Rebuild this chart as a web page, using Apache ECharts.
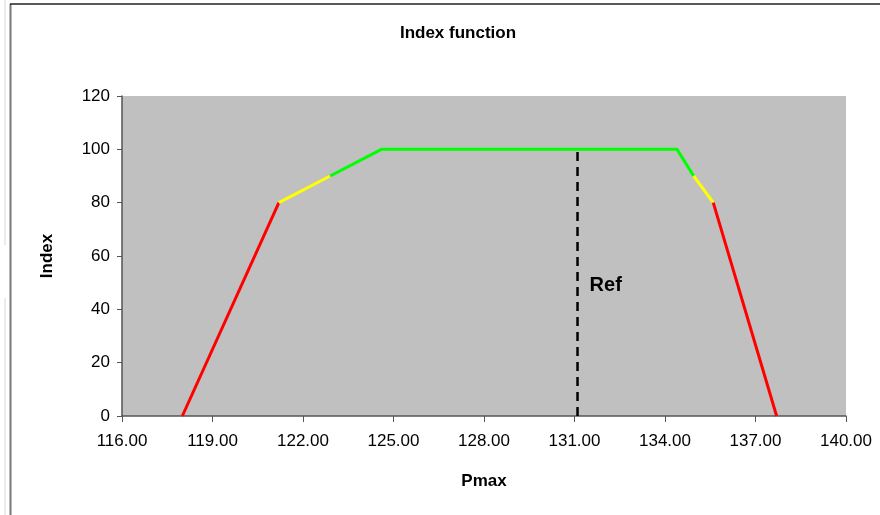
<!DOCTYPE html>
<html>
<head>
<meta charset="utf-8">
<script src="https://cdn.jsdelivr.net/npm/echarts@6/dist/echarts.min.js"></script>
<style>html,body{margin:0;padding:0;background:#fff}#c{width:880px;height:515px}</style>
</head>
<body>
<div id="c"></div>
<script>
const xTicks = [116, 119, 122, 125, 128, 131, 134, 137, 140];
const redLeft = [[118.0, 0], [121.2, 80]];
const yellowLeft = [[121.2, 80], [122.9, 90]];
const greenTop = [[122.9, 90], [124.6, 100], [134.4, 100], [134.95, 90]];
const yellowRight = [[134.95, 90], [135.6, 80]];
const redRight = [[135.6, 80], [137.7, 0]];
const refLine = [[131.1, 0], [131.1, 100]];
const refLabel = [[131.5, 49]];

const FONT = "'Liberation Sans', Arial, sans-serif";
const chart = echarts.init(document.getElementById('c'));
function seg(data, color) {
  return { type: 'line', data: data, symbol: 'none', lineStyle: { color: color, width: 3 }, silent: true, animation: false, z: 3 };
}
chart.setOption({
  animation: false,
  title: { text: 'Index function', left: 453, top: 20, textAlign: 'center',
    textStyle: { fontFamily: FONT, fontSize: 17, fontWeight: 'bold', color: '#000' } },
  grid: { left: 122, right: 34, top: 96, bottom: 99, show: true, backgroundColor: '#c0c0c0', borderWidth: 0 },
  xAxis: {
    type: 'value', min: 116, max: 140,
    name: 'Pmax', nameLocation: 'middle', nameGap: 57,
    nameTextStyle: { fontFamily: FONT, fontSize: 17, fontWeight: 'bold', color: '#000' },
    axisLine: { lineStyle: { color: '#555', width: 1.5 } },
    axisTick: { show: true, length: 6, customValues: xTicks, lineStyle: { color: '#555' } },
    axisLabel: { customValues: xTicks, formatter: v => v.toFixed(2), fontFamily: FONT, fontSize: 17, color: '#000', margin: 17 },
    splitLine: { show: false }
  },
  yAxis: {
    type: 'value', min: 0, max: 120, interval: 20,
    name: 'Index', nameLocation: 'middle', nameGap: 66,
    nameTextStyle: { fontFamily: FONT, fontSize: 17, fontWeight: 'bold', color: '#000' },
    axisLine: { show: true, lineStyle: { color: '#555', width: 1.5 } },
    axisTick: { show: true, length: 5, lineStyle: { color: '#555' } },
    axisLabel: { fontFamily: FONT, fontSize: 17, color: '#000', margin: 12 },
    splitLine: { show: false }
  },
  series: [
    seg(redLeft, '#ff0000'),
    seg(yellowLeft, '#ffff00'),
    seg(greenTop, '#00ff00'),
    seg(yellowRight, '#ffff00'),
    seg(redRight, '#ff0000'),
    { type: 'line', data: refLine, symbol: 'none', lineStyle: { color: '#000', width: 2.5, type: [9, 6] }, z: 2 },
    { type: 'scatter', data: refLabel, symbolSize: 0, itemStyle: { opacity: 0 },
      label: { show: true, position: 'right', distance: 0, formatter: 'Ref', fontFamily: FONT, fontSize: 20, fontWeight: 'bold', color: '#000', opacity: 1 } }
  ],
  graphic: [
    { type: 'line', shape: { x1: 5, y1: 0, x2: 5, y2: 245 }, style: { stroke: '#d8d8d8', lineWidth: 1 } },
    { type: 'line', shape: { x1: 5, y1: 298, x2: 5, y2: 515 }, style: { stroke: '#d8d8d8', lineWidth: 1 } },
    { type: 'line', shape: { x1: 10.5, y1: 4, x2: 10.5, y2: 515 }, style: { stroke: '#777', lineWidth: 2 } },
    { type: 'line', shape: { x1: 10, y1: 4, x2: 880, y2: 4 }, style: { stroke: '#222', lineWidth: 1.5 } }
  ]
});
</script>
</body>
</html>
